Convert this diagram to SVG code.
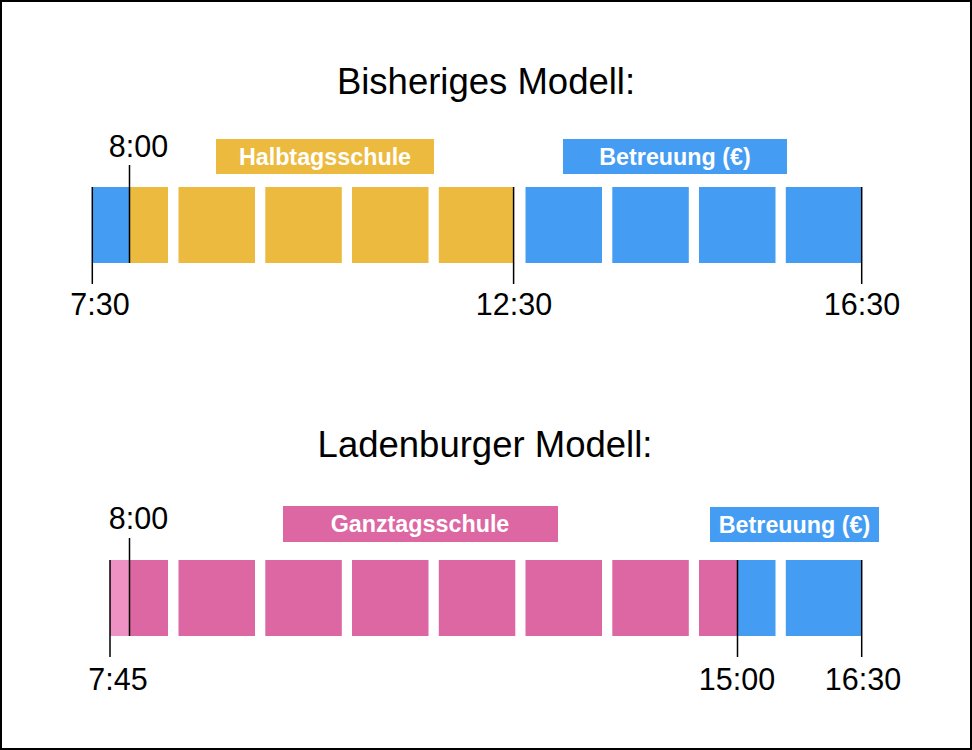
<svg xmlns="http://www.w3.org/2000/svg" width="972" height="750" viewBox="0 0 972 750">
<style>
text{font-family:"Liberation Sans",Arial,Helvetica,sans-serif;fill:#000}
.title{font-size:36.5px;text-anchor:middle}
.time{font-size:30.5px;text-anchor:middle}
.lbl{font-size:23.3px;font-weight:bold;fill:#fff;text-anchor:middle}
.y{fill:#ECBA3E}
.b{fill:#459CF3}
.p{fill:#DC67A3}
.lp{fill:#EE92C4}
.tick{stroke:#000;stroke-width:1.5;fill:none}
</style>
<rect x="1" y="1" width="970" height="748" fill="#fff" stroke="#000" stroke-width="2"/>

<g id="title-top"><text class="title" x="486" y="94">Bisheriges Modell:</text></g>
<g id="title-bottom"><text class="title" x="485" y="457">Ladenburger Modell:</text></g>

<g id="label-halbtag"><rect class="y" x="216" y="139" width="218" height="35"/><text class="lbl" x="325" y="165">Halbtagsschule</text></g>
<g id="label-betreuung-top"><rect class="b" x="563" y="139" width="224" height="35"/><text class="lbl" x="675" y="165">Betreuung (€)</text></g>
<g id="label-ganztag"><rect class="p" x="283" y="506" width="275" height="36"/><text class="lbl" x="420" y="532">Ganztagsschule</text></g>
<g id="label-betreuung-bottom"><rect class="b" x="710" y="507" width="169" height="35"/><text class="lbl" x="794.5" y="533">Betreuung (€)</text></g>

<g id="row-top">
<rect class="b" x="92" y="187" width="37.5" height="76"/>
<rect class="y" x="129.5" y="187" width="38.5" height="76"/>
<rect class="y" x="178.5" y="187" width="76.5" height="76"/>
<rect class="y" x="265.3" y="187" width="76.5" height="76"/>
<rect class="y" x="352" y="187" width="76.5" height="76"/>
<rect class="y" x="438.8" y="187" width="75" height="76"/>
<rect class="b" x="525.5" y="187" width="76.5" height="76"/>
<rect class="b" x="612.3" y="187" width="76.5" height="76"/>
<rect class="b" x="699" y="187" width="76.5" height="76"/>
<rect class="b" x="785.8" y="187" width="76.2" height="76"/>
</g>

<g id="row-bottom">
<rect class="lp" x="110" y="560" width="19.5" height="76"/>
<rect class="p" x="129.5" y="560" width="38.5" height="76"/>
<rect class="p" x="178.5" y="560" width="76.5" height="76"/>
<rect class="p" x="265.3" y="560" width="76.5" height="76"/>
<rect class="p" x="352" y="560" width="76.5" height="76"/>
<rect class="p" x="438.8" y="560" width="76.5" height="76"/>
<rect class="p" x="525.5" y="560" width="76.5" height="76"/>
<rect class="p" x="612.3" y="560" width="76.5" height="76"/>
<rect class="p" x="699" y="560" width="38.3" height="76"/>
<rect class="b" x="737.3" y="560" width="38.2" height="76"/>
<rect class="b" x="785.8" y="560" width="76.2" height="76"/>
</g>

<g id="connectors">
<line class="tick" x1="92.3" y1="187" x2="92.3" y2="284"/>
<line class="tick" x1="129.5" y1="165" x2="129.5" y2="263"/>
<line class="tick" x1="513.6" y1="187" x2="513.6" y2="284"/>
<line class="tick" x1="861.7" y1="187" x2="861.7" y2="284"/>
<line class="tick" x1="110" y1="560" x2="110" y2="657"/>
<line class="tick" x1="129.5" y1="538" x2="129.5" y2="636"/>
<line class="tick" x1="737.5" y1="560" x2="737.5" y2="657"/>
<line class="tick" x1="861.7" y1="560" x2="861.7" y2="657"/>
</g>

<g id="times-top">
<text class="time" x="138.5" y="157">8:00</text>
<text class="time" x="100" y="315">7:30</text>
<text class="time" x="514" y="315">12:30</text>
<text class="time" x="862" y="315">16:30</text>
</g>
<g id="times-bottom">
<text class="time" x="138.5" y="529">8:00</text>
<text class="time" x="118" y="690">7:45</text>
<text class="time" x="737" y="690">15:00</text>
<text class="time" x="863" y="690">16:30</text>
</g>
</svg>
